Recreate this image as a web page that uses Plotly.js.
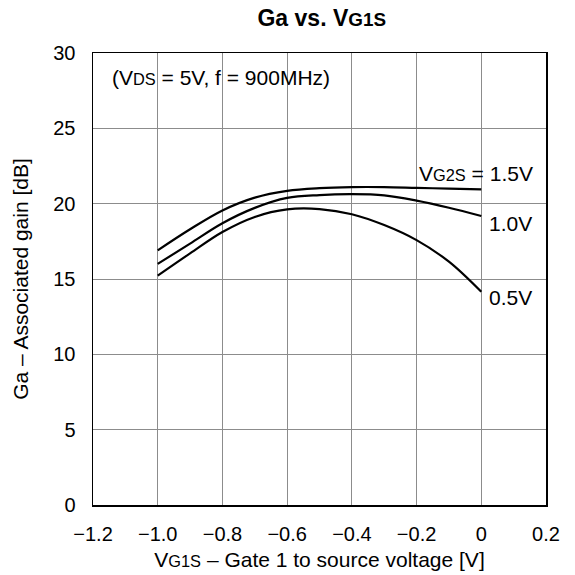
<!DOCTYPE html>
<html>
<head>
<meta charset="utf-8">
<script src="https://cdn.plot.ly/plotly-3.0.1.min.js"></script>
<style>html,body{margin:0;padding:0;background:#fff;}#chart{width:575px;height:575px;}</style>
</head>
<body>
<div id="chart"></div>
<script>
const vg1s = [-1.0, -0.9, -0.8, -0.7, -0.6, -0.5, -0.4, -0.3, -0.2, -0.1, 0.0];
const gaVg2s15 = [16.9, 18.3, 19.55, 20.4, 20.85, 21.03, 21.1, 21.1, 21.05, 21.0, 20.95];
const gaVg2s10 = [16.0, 17.35, 18.7, 19.72, 20.38, 20.57, 20.63, 20.55, 20.2, 19.73, 19.18];
const gaVg2s05 = [15.22, 16.7, 18.12, 19.12, 19.62, 19.64, 19.3, 18.58, 17.58, 16.15, 14.15];
const seriesLabels = ['V<span style="font-size:0.78em">G2S</span> = 1.5V', '1.0V', '0.5V'];
const xTicks = [-1.2, -1.0, -0.8, -0.6, -0.4, -0.2, 0, 0.2];
const xTickText = ['\u22121.2', '\u22121.0', '\u22120.8', '\u22120.6', '\u22120.4', '\u22120.2', '0', '0.2'];
const yTicks = [0, 5, 10, 15, 20, 25, 30];

const FONT = 'Liberation Sans, Arial, Helvetica, sans-serif';
const seriesData = [gaVg2s15, gaVg2s10, gaVg2s05];
const traces = seriesData.map(ys => ({
  x: vg1s, y: ys, type: 'scatter', mode: 'lines',
  line: {color: '#000', width: 2.2, shape: 'spline', smoothing: 1},
  hoverinfo: 'skip', showlegend: false
}));

const labelAnn = [
  {x: 0.2, y: gaVg2s15[10], text: seriesLabels[0], yshift: 16, xshift: -11, xanchor: 'right'},
  {x: 0.0, y: gaVg2s10[10], text: seriesLabels[1], yshift: -7, xshift: 6, xanchor: 'left'},
  {x: 0.0, y: gaVg2s05[10], text: seriesLabels[2], yshift: -6, xshift: 6, xanchor: 'left'}
].map(a => Object.assign({xref: 'x', yref: 'y', showarrow: false, yanchor: 'middle',
  font: {family: FONT, size: 21, color: '#000'}}, a));

const layout = {
  width: 575, height: 575,
  margin: {l: 93, r: 29, t: 53, b: 70},
  paper_bgcolor: '#fff', plot_bgcolor: '#fff',
  font: {family: FONT, color: '#000', size: 20},
  title: {text: '<b>Ga vs. V<span style="font-size:0.82em">G1S</span></b>',
    font: {family: FONT, size: 23, color: '#000', weight: 'bold'},
    xref: 'paper', x: 0.505, xanchor: 'center', yref: 'container', y: 0.968, yanchor: 'middle'},
  xaxis: {
    range: [-1.2, 0.2], tickvals: xTicks, ticktext: xTickText,
    showgrid: true, gridcolor: '#8c8c8c', gridwidth: 1, zeroline: false,
    showline: true, linecolor: '#000', linewidth: 1.5, mirror: true,
    ticks: '', ticklabelstandoff: 10,
    tickfont: {family: FONT, size: 20, color: '#000'},
    title: {text: 'V<span style="font-size:0.78em">G1S</span> \u2013 Gate 1 to source voltage [V]', font: {family: FONT, size: 21, color: '#000'}, standoff: 9}
  },
  yaxis: {
    range: [0, 30], tickvals: yTicks,
    showgrid: true, gridcolor: '#8c8c8c', gridwidth: 1, zeroline: false,
    showline: true, linecolor: '#000', linewidth: 1.5, mirror: true,
    ticks: '', ticklabelstandoff: 12,
    tickfont: {family: FONT, size: 20, color: '#000'},
    title: {text: 'Ga \u2013 Associated gain [dB]', font: {family: FONT, size: 21, color: '#000'}, standoff: 19}
  },
  annotations: [
    {xref: 'paper', yref: 'paper', x: 0.037, y: 0.945, xanchor: 'left', yanchor: 'middle', showarrow: false,
     text: '(V<span style="font-size:0.78em">DS</span> = 5V, f = 900MHz)', font: {family: FONT, size: 21, color: '#000'}}
  ].concat(labelAnn)
};

Plotly.newPlot('chart', traces, layout, {displayModeBar: false, staticPlot: true});
</script>
</body>
</html>
